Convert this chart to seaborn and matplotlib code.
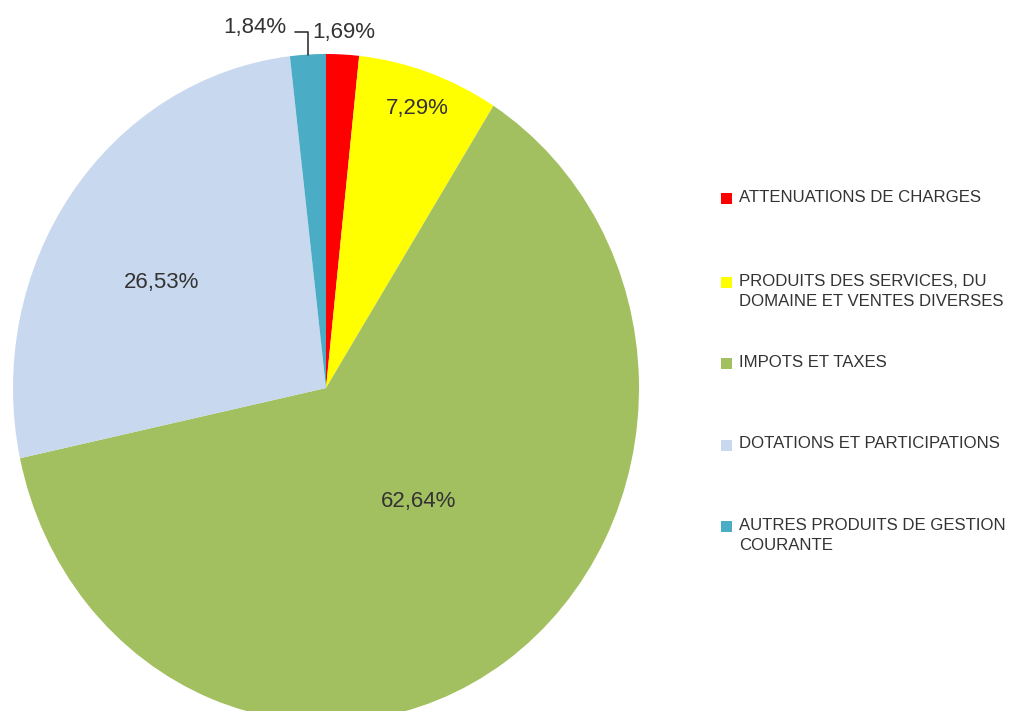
import matplotlib
matplotlib.use("Agg")
import matplotlib.pyplot as plt
import numpy as np
import seaborn as sns
from matplotlib.patches import Rectangle

categories = [
    "ATTENUATIONS DE CHARGES",
    "PRODUITS DES SERVICES, DU\nDOMAINE ET VENTES DIVERSES",
    "IMPOTS ET TAXES",
    "DOTATIONS ET PARTICIPATIONS",
    "AUTRES PRODUITS DE GESTION\nCOURANTE",
]
values = [1.69, 7.29, 62.64, 26.53, 1.84]
colors = ["#FF0000", "#FFFF00", "#A2C05F", "#C8D8EF", "#4BACC6"]

sns.set_theme(style="white")
plt.rcParams["font.family"] = ["Liberation Sans", "DejaVu Sans"]

W, H = 1013, 711
fig = plt.figure(figsize=(W / 100, H / 100), dpi=100)
fig.patch.set_facecolor("white")

# pie axes: center (326, 388) px, rx 313, ry 334
cx, cy, rx, ry = 326, 388, 313, 334
ax = fig.add_axes([(cx - rx) / W, (H - cy - ry) / H, 2 * rx / W, 2 * ry / H])
wedges, _ = ax.pie(values, colors=colors, startangle=90, counterclock=False,
                   wedgeprops=dict(linewidth=0))
ax.set_aspect("auto")
ax.set_xlim(-1, 1)
ax.set_ylim(-1, 1)
ax.axis("off")
for w in wedges:
    w.set_clip_on(False)

txt_color = "#333333"
label_r = [1.066, 0.885, 0.45, 0.61, None]
for i, (w, v) in enumerate(zip(wedges, values)):
    mid = np.deg2rad((w.theta1 + w.theta2) / 2)
    lab = f"{v:.2f}".replace(".", ",") + "%"
    if label_r[i] is not None:
        r = label_r[i]
        x, y = r * np.cos(mid), r * np.sin(mid)
        if i == 2:
            x += 0.037
            y += 0.028
        if i == 3:
            x -= 0.028
            y -= 0.04
        ax.text(x, y, lab, ha="center", va="center", fontsize=16,
                color=txt_color, clip_on=False)
    else:
        # leader line label
        x0, y0 = np.cos(mid), np.sin(mid)
        ax.plot([x0, x0, x0 - 0.04], [y0, 1.066, 1.066], color="#333333",
                lw=1.2, clip_on=False)
        ax.text(x0 - 0.068, 1.078, lab, ha="right", va="center", fontsize=16,
                color=txt_color, clip_on=False)

# legend
rows = [198, 282, 363, 445, 526]
for lab, col, yc in zip(categories, colors, rows):
    fig.patches.append(Rectangle(((721) / W, (H - yc - 5.5) / H), 11 / W, 11 / H,
                                 transform=fig.transFigure, facecolor=col,
                                 edgecolor="none"))
    fig.text(739 / W, (H - yc + 8.5) / H, lab, ha="left", va="top", fontsize=12.1,
             color=txt_color, linespacing=1.5)

fig.savefig("out.png", dpi=100, facecolor="white")
